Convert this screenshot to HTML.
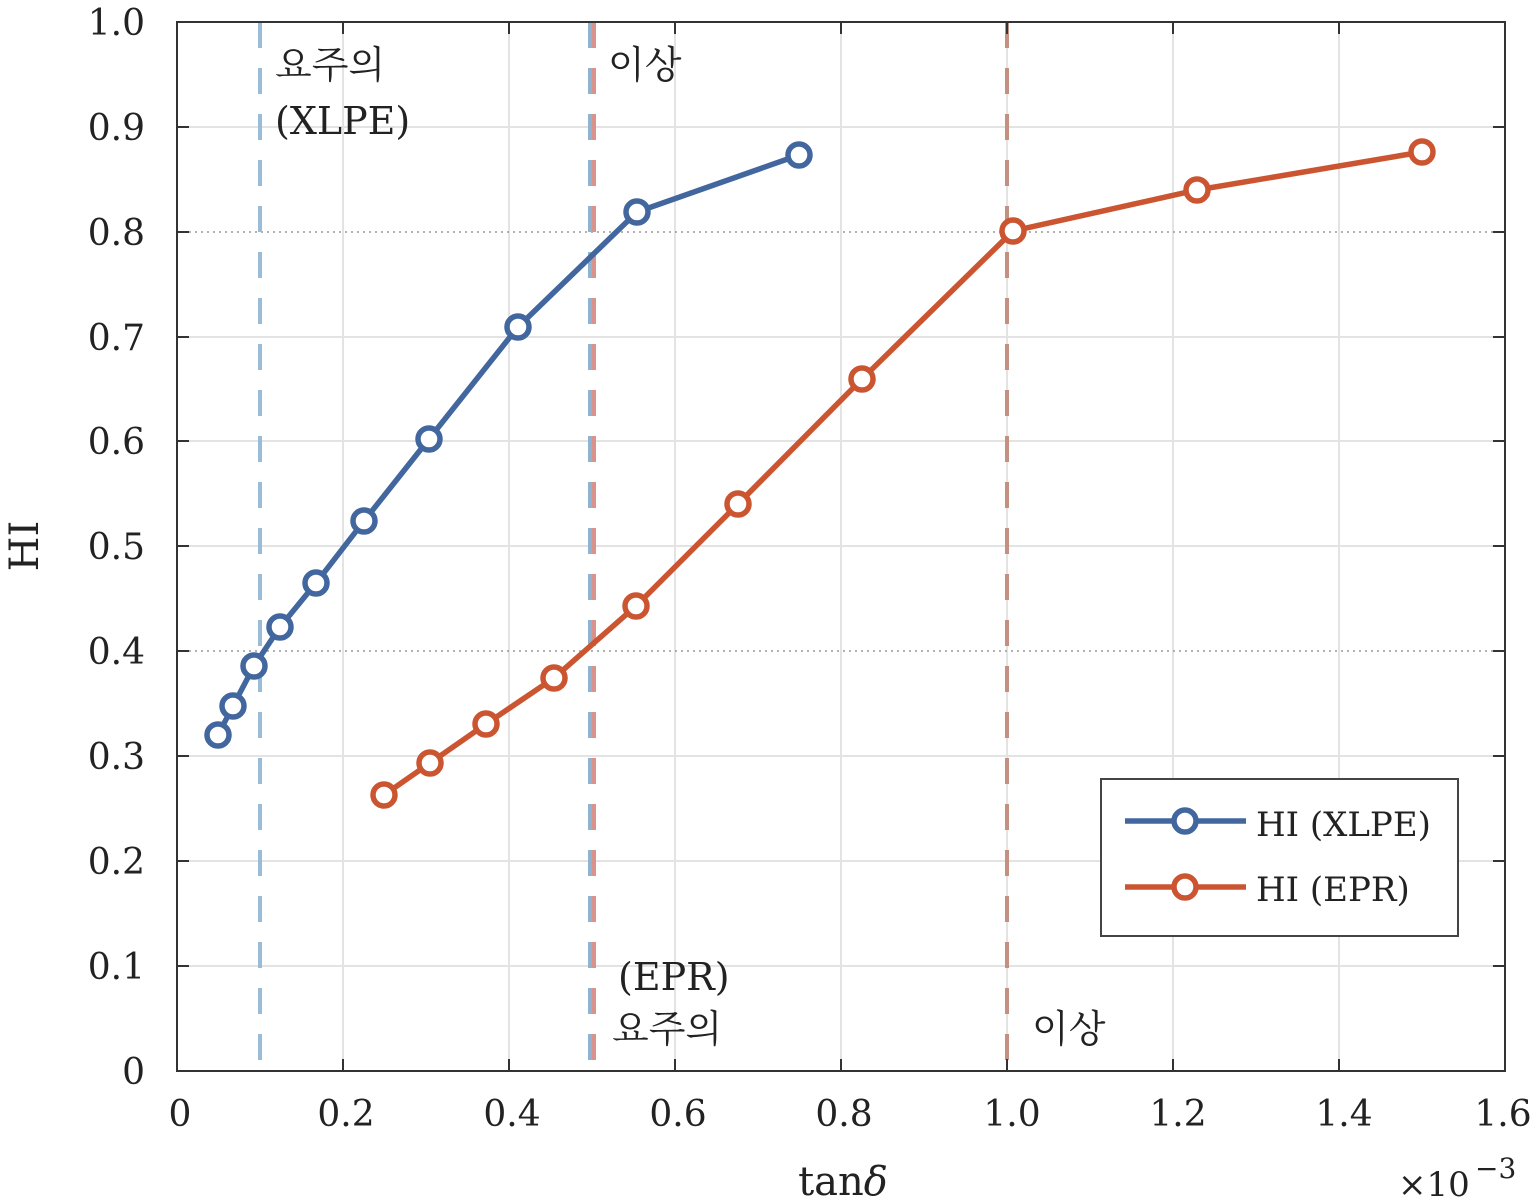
<!DOCTYPE html>
<html><head><meta charset="utf-8"><style>
html,body{margin:0;padding:0;background:#fff;}
svg{display:block;}
text{font-family:"DejaVu Serif","Noto Serif CJK KR","Noto Serif CJK SC",serif;fill:#222;}
.k{font-family:"Noto Serif CJK KR","Noto Serif CJK SC",serif;}
</style></head><body>
<svg width="1533" height="1203" viewBox="0 0 1533 1203" xmlns="http://www.w3.org/2000/svg">
<rect width="1533" height="1203" fill="#fff"/>
<g stroke="#e3e3e3" stroke-width="2">
<line x1="343" y1="22" x2="343" y2="1071"/><line x1="509" y1="22" x2="509" y2="1071"/>
<line x1="675" y1="22" x2="675" y2="1071"/><line x1="841" y1="22" x2="841" y2="1071"/>
<line x1="1007" y1="22" x2="1007" y2="1071"/><line x1="1173" y1="22" x2="1173" y2="1071"/>
<line x1="1339" y1="22" x2="1339" y2="1071"/>
<line x1="177" y1="966" x2="1505" y2="966"/><line x1="177" y1="861" x2="1505" y2="861"/>
<line x1="177" y1="756" x2="1505" y2="756"/><line x1="177" y1="546" x2="1505" y2="546"/>
<line x1="177" y1="441" x2="1505" y2="441"/><line x1="177" y1="337" x2="1505" y2="337"/>
<line x1="177" y1="127" x2="1505" y2="127"/>
</g>
<g stroke="#999" stroke-width="1.5" stroke-dasharray="2,4">
<line x1="177" y1="232" x2="1505" y2="232"/><line x1="177" y1="651" x2="1505" y2="651"/>
</g>
<g stroke-width="4" stroke-dasharray="26,20" fill="none">
<line x1="260" y1="22" x2="260" y2="1071" stroke="#9bbcd6"/>
<line x1="590" y1="22" x2="590" y2="1071" stroke="#8fb3d0"/>
<line x1="594" y1="22" x2="594" y2="1071" stroke="#d9938a"/>
<line x1="1007" y1="22" x2="1007" y2="1071" stroke="#c4907f"/>
</g>
<g stroke="#333" stroke-width="2" fill="none">
<rect x="177" y="22" width="1328" height="1049"/>
<path d="M343 1071v-12M509 1071v-12M675 1071v-12M841 1071v-12M1007 1071v-12M1173 1071v-12M1339 1071v-12
M343 22v12M509 22v12M675 22v12M841 22v12M1007 22v12M1173 22v12M1339 22v12
M177 966h12M177 861h12M177 756h12M177 651h12M177 546h12M177 441h12M177 337h12M177 232h12M177 127h12
M1505 966h-12M1505 861h-12M1505 756h-12M1505 651h-12M1505 546h-12M1505 441h-12M1505 337h-12M1505 232h-12M1505 127h-12"/>
</g>
<g fill="#fff" stroke-width="5.5">
<polyline fill="none" stroke="#42669e" points="218,735 233,706 254,666 280,627 316,583 364,521 429,439 518,327 637,212 799,155"/>
<g stroke="#42669e">
<circle cx="218" cy="735" r="11"/><circle cx="233" cy="706" r="11"/><circle cx="254" cy="666" r="11"/><circle cx="280" cy="627" r="11"/><circle cx="316" cy="583" r="11"/><circle cx="364" cy="521" r="11"/><circle cx="429" cy="439" r="11"/><circle cx="518" cy="327" r="11"/><circle cx="637" cy="212" r="11"/><circle cx="799" cy="155" r="11"/>
</g>
<polyline fill="none" stroke="#cc5531" points="384,795 430,763 486,724 554,678 636,606 738,504 862,379 1013,231 1197,190 1422,152"/>
<g stroke="#cc5531">
<circle cx="384" cy="795" r="11"/><circle cx="430" cy="763" r="11"/><circle cx="486" cy="724" r="11"/><circle cx="554" cy="678" r="11"/><circle cx="636" cy="606" r="11"/><circle cx="738" cy="504" r="11"/><circle cx="862" cy="379" r="11"/><circle cx="1013" cy="231" r="11"/><circle cx="1197" cy="190" r="11"/><circle cx="1422" cy="152" r="11"/>
</g>
</g>
<g font-size="36" text-anchor="end">
<text x="145" y="1084">0</text><text x="145" y="979">0.1</text><text x="145" y="874">0.2</text>
<text x="145" y="769">0.3</text><text x="145" y="664">0.4</text><text x="145" y="559">0.5</text>
<text x="145" y="454">0.6</text><text x="145" y="350">0.7</text><text x="145" y="245">0.8</text>
<text x="145" y="140">0.9</text><text x="145" y="35">1.0</text>
</g>
<g font-size="36" text-anchor="middle">
<text x="180" y="1126">0</text><text x="346" y="1126">0.2</text><text x="512" y="1126">0.4</text>
<text x="678" y="1126">0.6</text><text x="844" y="1126">0.8</text><text x="1012" y="1126">1.0</text>
<text x="1178" y="1126">1.2</text><text x="1344" y="1126">1.4</text><text x="1503" y="1126">1.6</text>
</g>
<text x="843" y="1195" font-size="40" text-anchor="middle">tan<tspan font-style="italic">δ</tspan></text>
<text x="1398" y="1196" font-size="34">×10</text><text x="1475" y="1178" font-size="28">−3</text>
<text transform="translate(38,546) rotate(-90)" font-size="40" text-anchor="middle">HI</text>
<g font-size="38">
<text class="k" x="275" y="78">요주의</text>
<text x="275" y="134">(XLPE)</text>
<text class="k" x="608" y="78">이상</text>
<text x="618" y="990">(EPR)</text>
<text class="k" x="612" y="1042">요주의</text>
<text class="k" x="1032" y="1042">이상</text>
</g>
<rect x="1101" y="779" width="357" height="157" fill="#fff" stroke="#444" stroke-width="2"/>
<line x1="1125" y1="821" x2="1246" y2="821" stroke="#42669e" stroke-width="5.5"/>
<circle cx="1185" cy="821" r="11" fill="#fff" stroke="#42669e" stroke-width="5.5"/>
<line x1="1125" y1="887" x2="1246" y2="887" stroke="#cc5531" stroke-width="5.5"/>
<circle cx="1185" cy="887" r="11" fill="#fff" stroke="#cc5531" stroke-width="5.5"/>
<text x="1256" y="836" font-size="34">HI (XLPE)</text>
<text x="1256" y="901" font-size="34">HI (EPR)</text>
</svg>
</body></html>
